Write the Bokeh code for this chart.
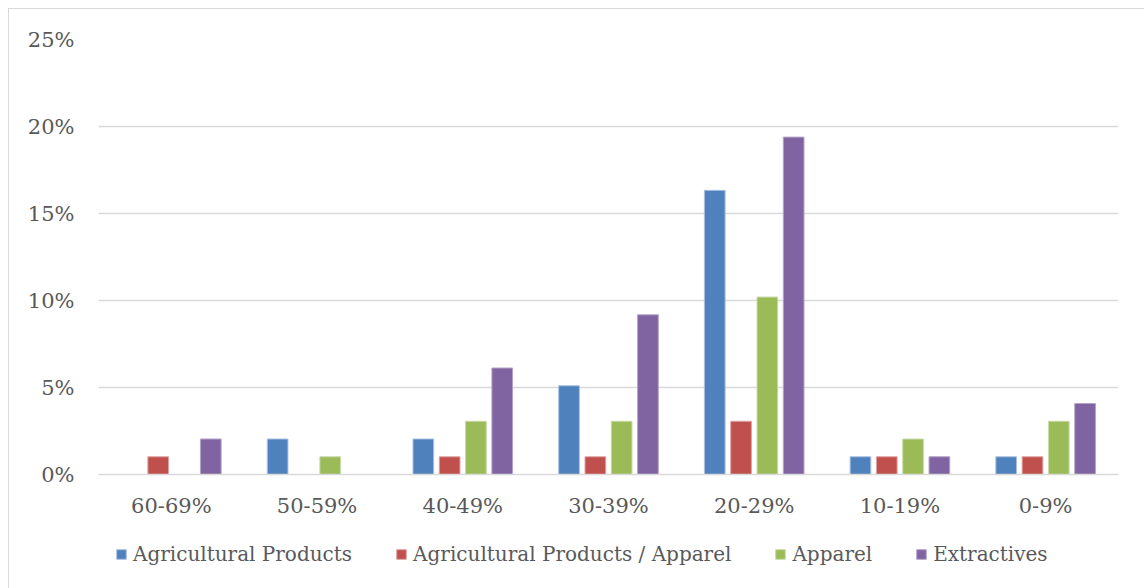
from bokeh.plotting import figure
from bokeh.layouts import column
from bokeh.models import (ColumnDataSource, FactorRange, FixedTicker, PrintfTickFormatter,
                          Legend, LegendItem, Range1d)
from bokeh.transform import dodge
from bokeh.embed import file_html
from bokeh.resources import INLINE

# Share of entries per band (percent)
categories = ["60-69%", "50-59%", "40-49%", "30-39%", "20-29%", "10-19%", "0-9%"]
agricultural = [0.00, 2.04, 2.04, 5.10, 16.33, 1.02, 1.02]
agri_apparel = [1.02, 0.00, 1.02, 1.02, 3.06, 1.02, 1.02]
apparel = [0.00, 1.02, 3.06, 3.06, 10.20, 2.04, 3.06]
extractives = [2.04, 0.00, 6.12, 9.18, 19.39, 1.02, 4.08]

series_names = ["Agricultural Products", "Agricultural Products / Apparel", "Apparel", "Extractives"]
colors = ["#4F81BD", "#C0504D", "#9BBB59", "#8064A2"]
edges = ["#A9C0DF", "#DDA3A1", "#C9DBAA", "#B4A3C9"]
y_ticks = [0, 5, 10, 15, 20, 25]

FONT = "DejaVu Serif"
TEXT = "#595959"
GRID = "#D9D9D9"

source = ColumnDataSource(data=dict(cat=categories, s0=agricultural, s1=agri_apparel,
                                    s2=apparel, s3=extractives))
x_range = FactorRange(*categories)

step = 0.1805
bar_w = 0.142

def add_bars(fig):
    out = []
    for j, (col, edge) in enumerate(zip(colors, edges)):
        out.append(fig.vbar(x=dodge("cat", (j - 1.5) * step, range=x_range), top=f"s{j}",
                            width=bar_w, source=source, fill_color=col, line_color=edge,
                            line_width=1))
    return out

# --- main bar chart ---
p = figure(x_range=x_range, y_range=(0, 25),
           width=1136, height=522, output_backend="svg", toolbar_location=None,
           min_border_left=89, min_border_right=27, min_border_top=30, min_border_bottom=57)
p.outline_line_color = None
p.background_fill_color = "white"
p.border_fill_color = "white"
add_bars(p)

p.yaxis.ticker = FixedTicker(ticks=y_ticks)
p.yaxis.formatter = PrintfTickFormatter(format="%d%%")
p.yaxis.axis_line_color = None
p.yaxis.major_tick_line_color = None
p.yaxis.minor_tick_line_color = None
p.yaxis.major_tick_out = 0
p.yaxis.major_label_standoff = 24
p.yaxis.major_label_text_font = FONT
p.yaxis.major_label_text_font_size = "21px"
p.yaxis.major_label_text_color = TEXT

p.xaxis.axis_line_color = GRID
p.xaxis.axis_line_width = 1.5
p.xaxis.major_tick_line_color = None
p.xaxis.minor_tick_line_color = None
p.xaxis.major_tick_out = 0
p.xaxis.major_label_standoff = 19
p.xaxis.major_label_text_font = FONT
p.xaxis.major_label_text_font_size = "21px"
p.xaxis.major_label_text_color = TEXT

p.xgrid.grid_line_color = None
p.ygrid.ticker = FixedTicker(ticks=y_ticks)
p.ygrid.grid_line_color = GRID
p.ygrid.grid_line_width = 1.3

# --- legend row (same bars, scrolled out of view, only feed the legend) ---
lg = figure(x_range=x_range, y_range=Range1d(100, 101), width=1136, height=58,
            output_backend="svg", toolbar_location=None,
            min_border_left=89, min_border_right=27, min_border_top=0, min_border_bottom=0)
lg.axis.visible = False
lg.grid.grid_line_color = None
lg.outline_line_color = None
lg.border_fill_color = "white"
legend_bars = add_bars(lg)

legend = Legend(items=[LegendItem(label=n, renderers=[r]) for n, r in zip(series_names, legend_bars)],
                orientation="horizontal", location=(17, 23))
legend.glyph_width = 12
legend.glyph_height = 12
legend.label_standoff = 6
legend.spacing = 43
legend.padding = 0
legend.margin = 0
legend.border_line_color = None
legend.background_fill_alpha = 0
legend.label_text_font = FONT
legend.label_text_font_size = "20px"
legend.label_text_color = TEXT
lg.add_layout(legend, "center")

layout = column(p, lg, spacing=0)
layout.margin = (8, 0, 0, 8)
layout.styles = {"border-top": "1px solid #D9D9D9", "border-left": "1px solid #D9D9D9"}

open("out.html", "w").write(file_html(layout, INLINE))
